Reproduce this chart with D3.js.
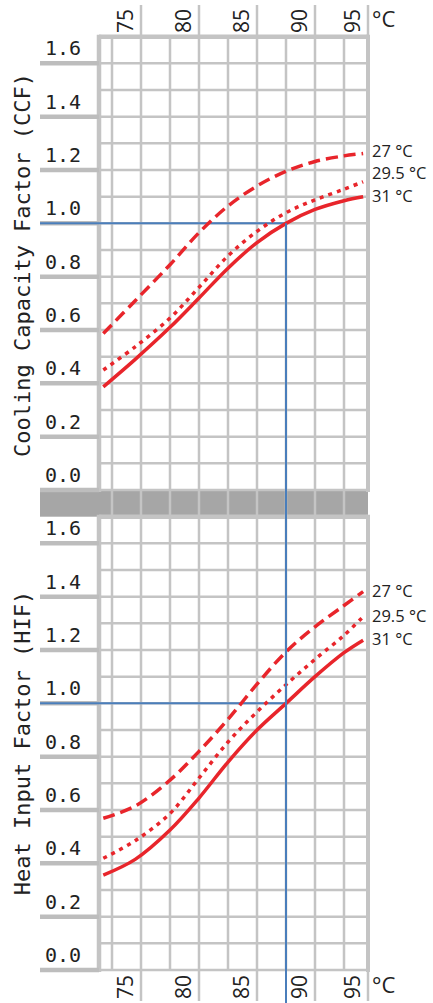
<!DOCTYPE html>
<html>
<head>
<meta charset="utf-8">
<script src="https://cdn.jsdelivr.net/npm/d3@7"></script>
<style>
  html, body { margin:0; padding:0; background:#fff; }
  svg { display:block; }
</style>
</head>
<body>
<div id="chart"></div>
<script>
const width = 433;
const height = 1003;

// data
const xTicks = [75, 80, 85, 90, 95];
const xGrid = [72.5, 75, 77.5, 80, 82.5, 85, 87.5, 90, 92.5];
const yTicks = [0, 0.2, 0.4, 0.6, 0.8, 1.0, 1.2, 1.4, 1.6];
const yGrid = [0, 0.1, 0.2, 0.3, 0.4, 0.5, 0.6, 0.7, 0.8, 0.9, 1.0, 1.1, 1.2, 1.3, 1.4, 1.5, 1.6, 1.7];
const sampleX = [71.75, 74.5, 77.5, 80, 82.5, 85, 87.5, 90, 92.5, 94.15];
const seriesNames = ["27 °C", "29.5 °C", "31 °C"];

const ccf27  = [0.587, 0.71, 0.845, 0.965, 1.065, 1.14, 1.195, 1.232, 1.253, 1.262];
const ccf295 = [0.45, 0.537, 0.645, 0.76, 0.878, 0.97, 1.04, 1.088, 1.128, 1.156];
const ccf31  = [0.387, 0.49, 0.61, 0.72, 0.832, 0.928, 1.0, 1.052, 1.085, 1.1];

const hif27  = [0.569, 0.615, 0.712, 0.82, 0.94, 1.072, 1.193, 1.287, 1.367, 1.419];
const hif295 = [0.419, 0.485, 0.587, 0.72, 0.855, 0.968, 1.07, 1.165, 1.255, 1.325];
const hif31  = [0.356, 0.415, 0.525, 0.645, 0.78, 0.9, 1.0, 1.1, 1.19, 1.237];

const ratedX = 87.5;
const ratedFactor = 1.0;

const gridCol = "#c4c4c4";
const red = "#e8252b";
const blue = "#4a7ebb";
const dashes = ["12,6", "4,5", null];

const plotLeft = 99, plotRight = 368, tickLeft = 40;

const x = d3.scaleLinear().domain([75, 90]).range([141, 315]);
const yTop = d3.scaleLinear().domain([0, 1.7]).range([490, 36.7]);
const yBot = d3.scaleLinear().domain([0, 1.7]).range([970, 516.7]);

const svg = d3.select("#chart").append("svg")
  .attr("width", width)
  .attr("height", height);

// gray band between the two panels
svg.append("rect")
  .attr("x", tickLeft).attr("width", plotRight - tickLeft)
  .attr("y", yTop(0)).attr("height", yBot(1.7) - yTop(0))
  .attr("fill", "#a6a6a6");

// vertical grid through both panels
svg.append("g").selectAll("line")
  .data(xGrid)
  .join("line")
  .attr("x1", d=>x(d)).attr("x2", d=>x(d))
  .attr("y1", yTop(1.7)).attr("y2", yBot(0))
  .attr("stroke", gridCol).attr("stroke-width", 2.5);

// tick separators above and below
const sepX = d => Math.min(x(d), plotRight);
svg.append("g").selectAll("line")
  .data(xTicks)
  .join("line")
  .attr("x1", sepX).attr("x2", sepX)
  .attr("y1", 5).attr("y2", yTop(1.7))
  .attr("stroke", gridCol).attr("stroke-width", 2.5);
svg.append("g").selectAll("line")
  .data(xTicks)
  .join("line")
  .attr("x1", sepX).attr("x2", sepX)
  .attr("y1", yBot(0)).attr("y2", 1001)
  .attr("stroke", gridCol).attr("stroke-width", 2.5);

function panel(y, data, title, titleY){
  const g = svg.append("g");

  g.append("g").selectAll("line")
    .data(yGrid)
    .join("line")
    .attr("x1", plotLeft).attr("x2", plotRight)
    .attr("y1", d=>y(d)).attr("y2", d=>y(d))
    .attr("stroke", gridCol)
    .attr("stroke-width", d=>(d===1.7 ? 4.5 : 2.5));

  // frame sides
  g.append("line")
    .attr("x1", plotLeft).attr("x2", plotLeft)
    .attr("y1", y(1.7)-2).attr("y2", y(0)+2)
    .attr("stroke", gridCol).attr("stroke-width", 4.5);
  g.append("line")
    .attr("x1", plotRight).attr("x2", plotRight)
    .attr("y1", y(1.7)-2).attr("y2", y(0)+2)
    .attr("stroke", gridCol).attr("stroke-width", 4);

  // thick left ticks
  g.append("g").selectAll("line")
    .data(yTicks)
    .join("line")
    .attr("x1", tickLeft).attr("x2", plotLeft)
    .attr("y1", d=>y(d)).attr("y2", d=>y(d))
    .attr("stroke", "#bdbdbd").attr("stroke-width", 4.5);

  g.append("g").selectAll("text")
    .data(yTicks)
    .join("text")
    .attr("x", 45)
    .attr("y", d=>y(d) - 8)
    .attr("font-family", "DejaVu Sans Mono")
    .attr("font-size", 20)
    .attr("fill", "#222")
    .text(d=>d.toFixed(1));

  g.append("text")
    .attr("transform", `translate(30,${titleY}) rotate(-90)`)
    .attr("text-anchor", "middle")
    .attr("font-family", "DejaVu Sans Mono")
    .attr("font-size", 22)
    .attr("fill", "#222")
    .text(title);

  // rated point marker
  g.append("line")
    .attr("x1", tickLeft).attr("x2", x(ratedX))
    .attr("y1", y(ratedFactor)).attr("y2", y(ratedFactor))
    .attr("stroke", blue).attr("stroke-width", 2);

  const line = d3.line()
    .x((d,i)=>x(sampleX[i]))
    .y(d=>y(d))
    .curve(d3.curveCatmullRom);

  g.append("g").selectAll("path")
    .data(data)
    .join("path")
    .attr("d", d=>line(d))
    .attr("fill", "none")
    .attr("stroke", red)
    .attr("stroke-width", 3.5)
    .attr("stroke-dasharray", (d,i)=>dashes[i]);

  // end labels, pushed apart when too close
  const labelY = data.map(d=>y(d[d.length-1]) + 5);
  for(let i=labelY.length-2;i>=0;i--){
    if(labelY[i+1]-labelY[i] < 22.5) labelY[i] = labelY[i+1]-22.5;
  }
  g.append("g").selectAll("text")
    .data(data)
    .join("text")
    .attr("x", 372)
    .attr("y", (d,i)=>labelY[i])
    .attr("font-family", "Open Sans")
    .attr("font-size", 16.5)
    .attr("fill", "#222")
    .text((d,i)=>seriesNames[i]);
}

panel(yTop, [ccf27, ccf295, ccf31], "Cooling Capacity Factor (CCF)", 265);
panel(yBot, [hif27, hif295, hif31], "Heat Input Factor (HIF)", 743);

// blue vertical from CCF 1.0 down to the bottom
svg.append("line")
  .attr("x1", x(ratedX)).attr("x2", x(ratedX))
  .attr("y1", yTop(ratedFactor)).attr("y2", height)
  .attr("stroke", blue).attr("stroke-width", 2);

// x labels top and bottom
svg.append("g").selectAll("text")
  .data(xTicks)
  .join("text")
  .attr("transform", d=>`translate(${sepX(d)-8},33) rotate(-90)`)
  .attr("font-family", "Open Sans")
  .attr("font-size", 21)
  .attr("fill", "#222")
  .text(d=>d);
svg.append("g").selectAll("text")
  .data(xTicks)
  .join("text")
  .attr("transform", d=>`translate(${sepX(d)-8},975) rotate(-90)`)
  .attr("text-anchor", "end")
  .attr("font-family", "Open Sans")
  .attr("font-size", 21)
  .attr("fill", "#222")
  .text(d=>d);

svg.append("text")
  .attr("x", 372).attr("y", 27)
  .attr("font-family", "Open Sans").attr("font-size", 22)
  .attr("fill", "#222")
  .text("°C");
svg.append("text")
  .attr("x", 372).attr("y", 993)
  .attr("font-family", "Open Sans").attr("font-size", 22)
  .attr("fill", "#222")
  .text("°C");
</script>
</body>
</html>
